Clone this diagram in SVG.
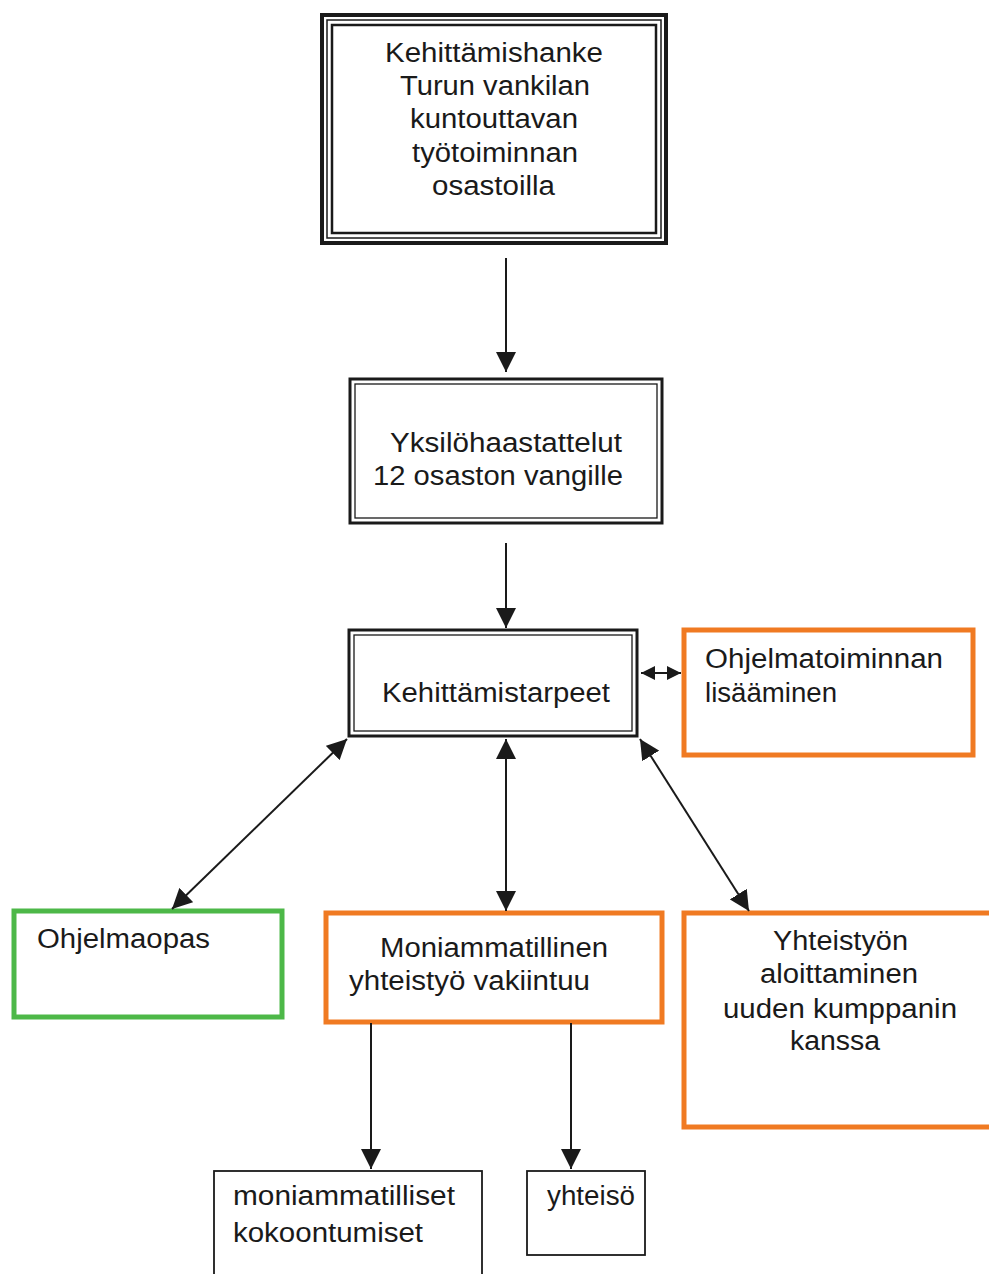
<svg xmlns="http://www.w3.org/2000/svg" width="989" height="1274" viewBox="0 0 989 1274">
<style>
text{font-family:"Liberation Sans",Arial,sans-serif;font-size:27px;fill:#1a1a1a}
.blk{fill:#fff;stroke:#1a1a1a}
.org{fill:#fff;stroke:#F07A22;stroke-width:5}
.grn{fill:#fff;stroke:#4DB848;stroke-width:5}
.con{stroke:#1a1a1a;stroke-width:2;fill:none}
</style>
<defs>
<marker id="ah" viewBox="0 0 10 10" refX="10" refY="5" markerWidth="14" markerHeight="14" markerUnits="userSpaceOnUse" orient="auto-start-reverse"><path d="M0,0 L10,5 L0,10 Z" fill="#1a1a1a"/></marker>
<marker id="ahL" viewBox="0 0 10 10" refX="10" refY="5" markerWidth="20" markerHeight="20" markerUnits="userSpaceOnUse" orient="auto-start-reverse"><path d="M0,0 L10,5 L0,10 Z" fill="#1a1a1a"/></marker>
</defs>
<rect width="989" height="1274" fill="#fff"/>
<g id="n1">
<rect class="blk" x="322" y="15" width="344" height="228" stroke-width="4"/>
<rect class="blk" x="327" y="20" width="334" height="218" stroke-width="1.5"/>
<rect class="blk" x="332" y="25" width="324" height="208" stroke-width="2.5"/>
<text x="385" y="62" textLength="218" lengthAdjust="spacingAndGlyphs">Kehittämishanke</text>
<text x="400" y="95" textLength="190" lengthAdjust="spacingAndGlyphs">Turun vankilan</text>
<text x="410" y="128" textLength="168" lengthAdjust="spacingAndGlyphs">kuntouttavan</text>
<text x="412" y="162" textLength="166" lengthAdjust="spacingAndGlyphs">työtoiminnan</text>
<text x="432" y="195" textLength="123" lengthAdjust="spacingAndGlyphs">osastoilla</text>
</g>
<g id="n2">
<rect class="blk" x="350" y="379" width="312" height="144" stroke-width="3"/>
<rect class="blk" x="355" y="384" width="302" height="134" stroke-width="1.3"/>
<text x="390" y="452" textLength="232" lengthAdjust="spacingAndGlyphs">Yksilöhaastattelut</text>
<text x="373" y="485" textLength="250" lengthAdjust="spacingAndGlyphs">12 osaston vangille</text>
</g>
<g id="n3">
<rect class="blk" x="349" y="630" width="288" height="106" stroke-width="3"/>
<rect class="blk" x="354" y="635" width="278" height="96" stroke-width="1.3"/>
<text x="382" y="702" textLength="228" lengthAdjust="spacingAndGlyphs">Kehittämistarpeet</text>
</g>
<g id="n4">
<rect class="org" x="684" y="630" width="289" height="125"/>
<text x="705" y="668" textLength="238" lengthAdjust="spacingAndGlyphs">Ohjelmatoiminnan</text>
<text x="705" y="702" textLength="132" lengthAdjust="spacingAndGlyphs">lisääminen</text>
</g>
<g id="n5">
<rect class="grn" x="14" y="911" width="268" height="106"/>
<text x="37" y="948" textLength="173" lengthAdjust="spacingAndGlyphs">Ohjelmaopas</text>
</g>
<g id="n6">
<rect class="org" x="326" y="913" width="336" height="109"/>
<text x="380" y="957" textLength="228" lengthAdjust="spacingAndGlyphs">Moniammatillinen</text>
<text x="349" y="990" textLength="241" lengthAdjust="spacingAndGlyphs">yhteistyö vakiintuu</text>
</g>
<g id="n7">
<rect class="org" x="684" y="913" width="310" height="214"/>
<text x="773" y="950" textLength="135" lengthAdjust="spacingAndGlyphs">Yhteistyön</text>
<text x="760" y="983" textLength="158" lengthAdjust="spacingAndGlyphs">aloittaminen</text>
<text x="723" y="1018" textLength="234" lengthAdjust="spacingAndGlyphs">uuden kumppanin</text>
<text x="790" y="1050" textLength="90" lengthAdjust="spacingAndGlyphs">kanssa</text>
</g>
<g id="n8">
<rect class="blk" x="214" y="1171" width="268" height="120" stroke-width="1.8"/>
<text x="233" y="1205" textLength="222" lengthAdjust="spacingAndGlyphs">moniammatilliset</text>
<text x="233" y="1242" textLength="190" lengthAdjust="spacingAndGlyphs">kokoontumiset</text>
</g>
<g id="n9">
<rect class="blk" x="527" y="1171" width="118" height="84" stroke-width="1.8"/>
<text x="547" y="1205" textLength="88" lengthAdjust="spacingAndGlyphs">yhteisö</text>
</g>
<g id="connectors">
<line class="con" x1="506" y1="258" x2="506" y2="372" marker-end="url(#ahL)"/>
<line class="con" x1="506" y1="543" x2="506" y2="628" marker-end="url(#ahL)"/>
<line class="con" x1="641" y1="673" x2="681" y2="673" marker-start="url(#ah)" marker-end="url(#ah)"/>
<line class="con" x1="347" y1="739" x2="172" y2="909" marker-start="url(#ahL)" marker-end="url(#ahL)"/>
<line class="con" x1="506" y1="739" x2="506" y2="911" marker-start="url(#ahL)" marker-end="url(#ahL)"/>
<line class="con" x1="640" y1="739" x2="749" y2="911" marker-start="url(#ahL)" marker-end="url(#ahL)"/>
<line class="con" x1="371" y1="1023" x2="371" y2="1169" marker-end="url(#ahL)"/>
<line class="con" x1="571" y1="1023" x2="571" y2="1169" marker-end="url(#ahL)"/>
</g>
</svg>
